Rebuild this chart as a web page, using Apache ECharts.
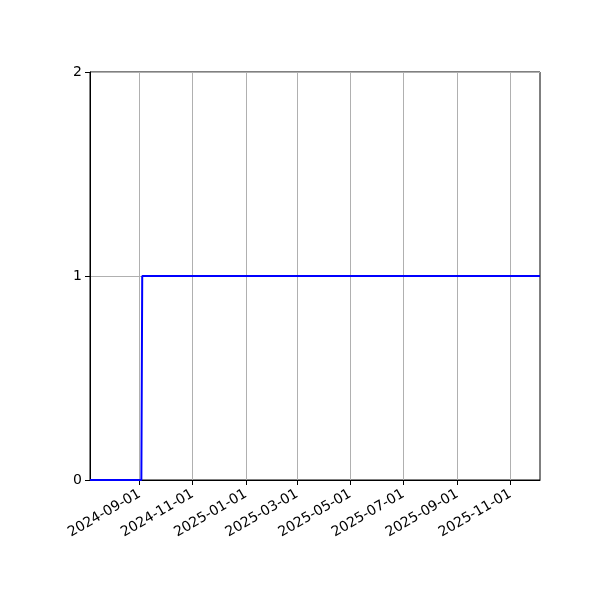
<!DOCTYPE html>
<html>
<head>
<meta charset="utf-8">
<script src="https://cdn.jsdelivr.net/npm/echarts@6/dist/echarts.min.js"></script>
<style>
  html, body { margin: 0; padding: 0; background: #fff; }
  #chart { width: 600px; height: 600px; }
</style>
</head>
<body>
<div id="chart"></div>
<script>
// Data
const dates = ["2024-07-06", "2024-09-03", "2024-09-04", "2025-12-05"];
const values = [0, 0, 1, 1];
const xTicks = ["2024-09-01", "2024-11-01", "2025-01-01", "2025-03-01",
  "2025-05-01", "2025-07-01", "2025-09-01", "2025-11-01"];
const yTicks = [0, 1, 2];

const toTime = (s) => Date.UTC(+s.slice(0, 4), +s.slice(5, 7) - 1, +s.slice(8, 10));
const pad = (n) => (n < 10 ? "0" + n : "" + n);
const fmtDate = (t) => {
  const d = new Date(t);
  return d.getUTCFullYear() + "-" + pad(d.getUTCMonth() + 1) + "-" + pad(d.getUTCDate());
};

const tickTimes = xTicks.map(toTime);
const chart = echarts.init(document.getElementById("chart"));

const option = {
  animation: false,
  textStyle: { fontFamily: "DejaVu Sans" },
  grid: {
    left: 90, right: 60, top: 72, bottom: 120,
    show: true, borderColor: "#000", borderWidth: 1
  },
  xAxis: {
    type: "value",
    min: toTime(dates[0]),
    max: toTime(dates[dates.length - 1]),
    axisLine: { show: true, onZero: false, lineStyle: { color: "#000", width: 1 } },
    axisTick: { show: true, length: 5, inside: false, customValues: tickTimes,
      lineStyle: { color: "#000" } },
    axisLabel: {
      customValues: tickTimes,
      formatter: (v) => fmtDate(v),
      rotate: 30, color: "#000", fontSize: 14, margin: 13
    },
    splitLine: { show: true, lineStyle: { color: "#b0b0b0", width: 1 } }
  },
  yAxis: {
    type: "value",
    min: yTicks[0], max: yTicks[yTicks.length - 1], interval: 1,
    axisLine: { show: true, lineStyle: { color: "#000", width: 1 } },
    axisTick: { show: true, length: 5, lineStyle: { color: "#000" } },
    axisLabel: { color: "#000", fontSize: 14, margin: 8 },
    splitLine: { show: true, lineStyle: { color: "#b0b0b0", width: 1 } }
  },
  series: [{
    type: "line",
    data: dates.map((d, i) => [toTime(d), values[i]]),
    showSymbol: false,
    clip: false,
    lineStyle: { color: "#0000ff", width: 2 },
    itemStyle: { color: "#0000ff" },
    z: 10
  }]
};

chart.setOption(option);
</script>
</body>
</html>
